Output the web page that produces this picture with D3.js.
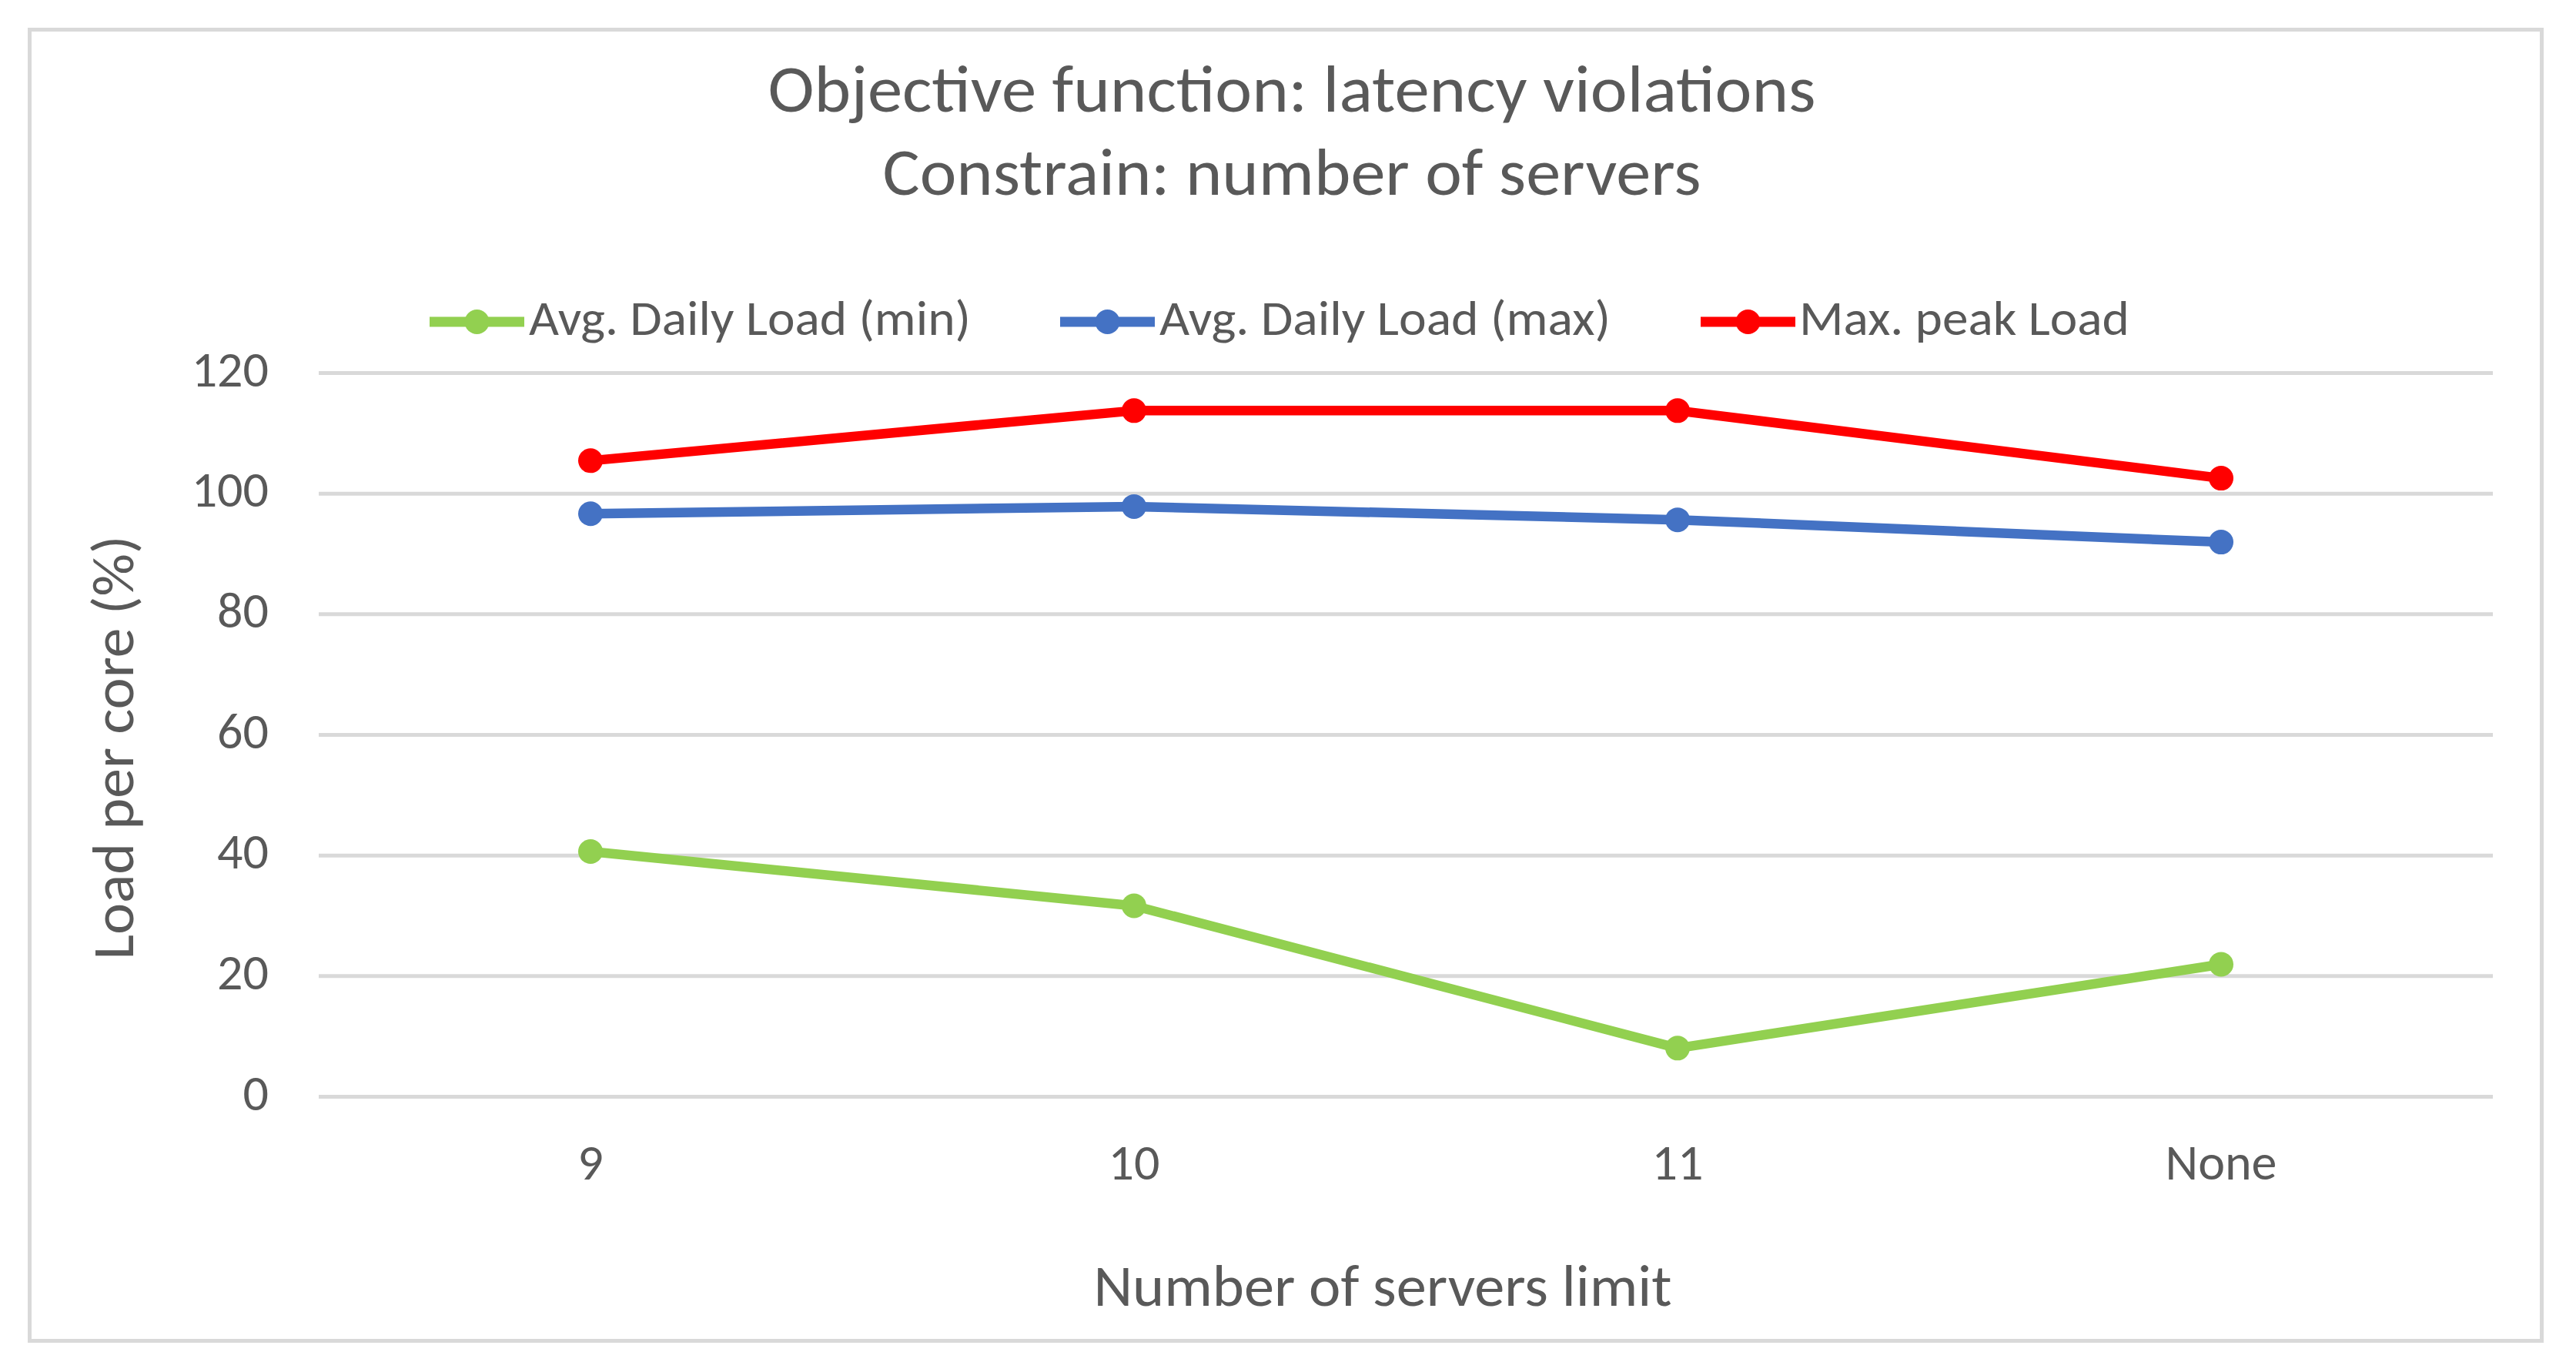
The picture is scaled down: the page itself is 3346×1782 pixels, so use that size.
<!DOCTYPE html>
<html>
<head>
<meta charset="utf-8">
<script src="https://cdn.jsdelivr.net/npm/d3@7"></script>
<style>
  html, body { margin: 0; padding: 0; background: #ffffff; }
  svg { display: block; }
  text { font-family: Carlito, Calibri, "Open Sans", sans-serif; fill: #595959; }
</style>
</head>
<body>
<script>
// ---- data ----
const categories = ["9", "10", "11", "None"];
const avgDailyMin = [40.6, 31.6, 8.0, 21.9];
const avgDailyMax = [96.6, 97.8, 95.6, 91.9];
const maxPeak = [105.4, 113.7, 113.7, 102.5];
const yTicks = [0, 20, 40, 60, 80, 100, 120];
const seriesNames = ["Avg. Daily Load (min)", "Avg. Daily Load (max)", "Max. peak Load"];
const seriesColors = ["#92D050", "#4472C4", "#FF0000"];
const titleLines = ["Objective function: latency violations", "Constrain: number of servers"];
const xTitle = "Number of servers limit";
const yTitle = "Load per core (%)";

const W = 3346, H = 1782;
const plot = { left: 414, right: 3238, top: 484, bottom: 1424 };

const svg = d3.select("body").append("svg").attr("width", W).attr("height", H);

// chart border
svg.append("rect").attr("x", 38.5).attr("y", 38.5).attr("width", 3263).attr("height", 1703)
  .attr("fill", "#ffffff").attr("stroke", "#D9D9D9").attr("stroke-width", 5);

const x = d3.scaleBand().domain(categories).range([plot.left, plot.right]);
const y = d3.scaleLinear().domain([0, 120]).range([plot.bottom, plot.top]);
const cx = c => x(c) + x.bandwidth() / 2;

// y axis with gridlines
const yAxis = svg.append("g").attr("transform", `translate(${plot.left},0)`)
  .call(d3.axisLeft(y).tickValues(yTicks).tickSize(-(plot.right - plot.left)).tickPadding(65));
yAxis.select(".domain").remove();
yAxis.selectAll(".tick line").attr("stroke", "#D9D9D9").attr("stroke-width", 5);
yAxis.selectAll(".tick text").attr("font-size", 66).attr("fill", "#595959").attr("dy", "0.26em")
  .style("font-family", 'Carlito, Calibri, "Open Sans", sans-serif');

// x axis labels
const xAxis = svg.append("g").attr("transform", `translate(0,${plot.bottom})`)
  .call(d3.axisBottom(x).tickSize(0).tickPadding(61));
xAxis.select(".domain").remove();
xAxis.selectAll(".tick text").attr("font-size", 66).attr("fill", "#595959")
  .style("font-family", 'Carlito, Calibri, "Open Sans", sans-serif');

// series
const allSeries = [avgDailyMin, avgDailyMax, maxPeak];
const line = d3.line().x((d, i) => cx(categories[i])).y(d => y(d));
allSeries.forEach((vals, si) => {
  svg.append("path").datum(vals).attr("d", line)
    .attr("fill", "none").attr("stroke", seriesColors[si]).attr("stroke-width", 12.5)
    .attr("stroke-linejoin", "round");
  svg.append("g").selectAll("circle").data(vals).join("circle")
    .attr("cx", (d, i) => cx(categories[i])).attr("cy", d => y(d)).attr("r", 16)
    .attr("fill", seriesColors[si]);
});

// title
const titleBase = [145, 253];
const titleWidths = [1361, 1063];
titleLines.forEach((t, i) => {
  svg.append("text").attr("x", 1678).attr("y", titleBase[i]).attr("text-anchor", "middle")
    .attr("font-size", 86).attr("textLength", titleWidths[i]).attr("lengthAdjust", "spacingAndGlyphs")
    .text(t);
});

// legend
const legendLineX = [558, 1377, 2209];
const legendTextX = [687, 1506, 2337];
const legendTextW = [574, 586, 429];
seriesNames.forEach((n, i) => {
  svg.append("line").attr("x1", legendLineX[i]).attr("x2", legendLineX[i] + 123)
    .attr("y1", 418).attr("y2", 418).attr("stroke", seriesColors[i]).attr("stroke-width", 13);
  svg.append("circle").attr("cx", legendLineX[i] + 61.5).attr("cy", 418).attr("r", 16).attr("fill", seriesColors[i]);
  svg.append("text").attr("x", legendTextX[i]).attr("y", 435).attr("font-size", 64)
    .attr("textLength", legendTextW[i]).attr("lengthAdjust", "spacingAndGlyphs").text(n);
});

// axis titles
svg.append("text").attr("x", 1796).attr("y", 1696).attr("text-anchor", "middle").attr("font-size", 76)
  .attr("textLength", 751).attr("lengthAdjust", "spacingAndGlyphs").text(xTitle);
svg.append("text").attr("transform", "translate(173,971) rotate(-90)").attr("text-anchor", "middle")
  .attr("font-size", 76).attr("textLength", 551).attr("lengthAdjust", "spacingAndGlyphs").text(yTitle);
</script>
</body>
</html>
